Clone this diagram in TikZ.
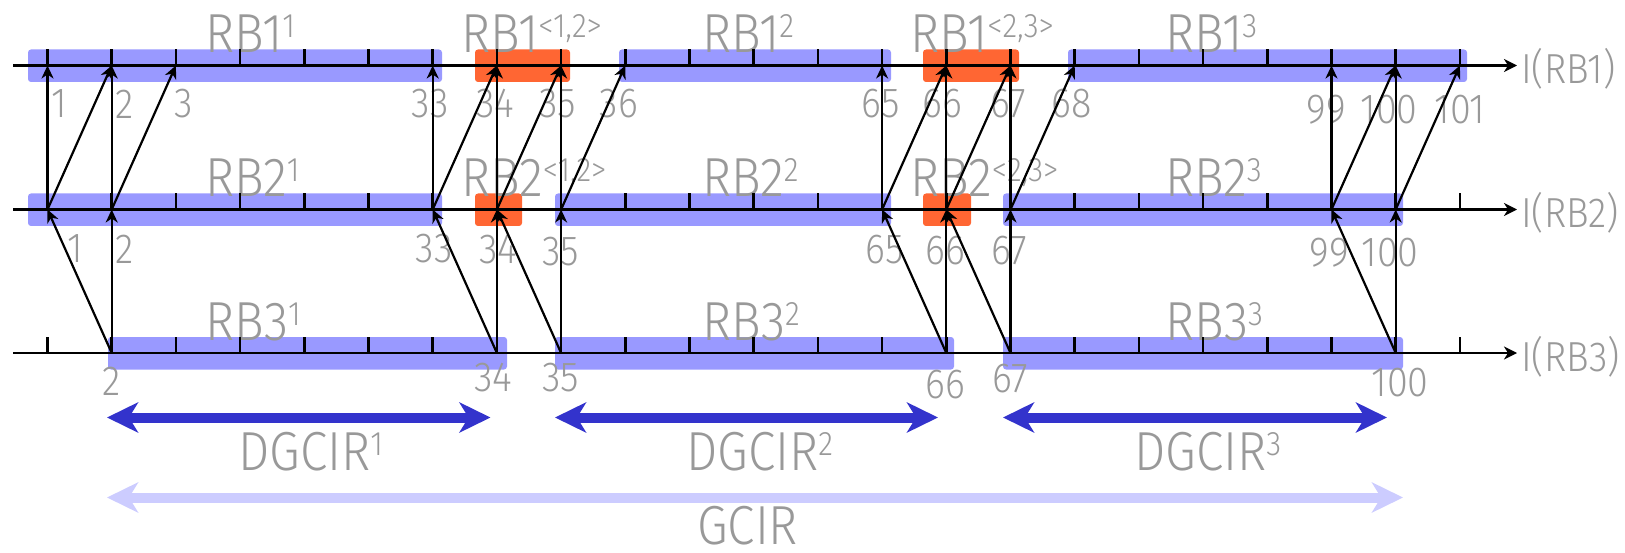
\documentclass[tikz,border=0pt]{standalone}
\usepackage{fontspec}
\setmainfont{Fira Sans Light}[FakeStretch=0.9]
\usetikzlibrary{arrows.meta}
\definecolor{rbblue}{RGB}{153,153,255}
\definecolor{rborange}{RGB}{255,102,51}
\definecolor{dgblue}{RGB}{51,51,204}
\definecolor{gcblue}{RGB}{204,204,255}
\definecolor{txtgray}{RGB}{153,153,153}
% raised index after a block name
\newcommand\upidx[1]{\raisebox{15pt}{\fontsize{34}{34}\selectfont #1}}

\begin{document}
\begin{tikzpicture}[x=1pt,y=-1pt,
  band/.style={fill=rbblue,rounded corners=3pt},
  overlap/.style={fill=rborange,rounded corners=3pt},
  axisline/.style={line width=2.5pt,-{Stealth[length=13pt,width=13pt,inset=4pt]}},
  tickmark/.style={line width=2.5pt},
  link/.style={line width=2.2pt,-{Stealth[length=13pt,width=12pt,inset=4pt]}},
  blockname/.style={text=txtgray,font=\fontsize{55}{55}\selectfont,anchor=base west,inner sep=0pt},
  idx/.style={text=txtgray,font=\fontsize{42}{42}\selectfont,inner sep=0pt},
  axisname/.style={text=txtgray,font=\fontsize{42}{42}\selectfont,anchor=base west,inner sep=0pt},
  span/.style={line width=10pt,{Stealth[length=31pt,width=30pt,inset=9pt]}-{Stealth[length=31pt,width=30pt,inset=9pt]}},
]
\useasboundingbox (0,0) rectangle (1625,553);

% ---- coloured blocks on the three index axes
\foreach \a/\b in {28/442,619/891,1068/1467}
  \fill[band] (\a,49.5) rectangle (\b,82);
\foreach \a/\b in {475/570,923/1019}
  \fill[overlap] (\a,49.5) rectangle (\b,82);
\foreach \a/\b in {28/442,555/891,1003/1403}
  \fill[band] (\a,193.5) rectangle (\b,226);
\foreach \a/\b in {475/522,923/971}
  \fill[overlap] (\a,193.5) rectangle (\b,226);
\foreach \a/\b in {108/507,555/954,1003/1403}
  \fill[band] (\a,337) rectangle (\b,369.5);

% ---- block names
\node[blockname] (n11) at (205,53) {RB1\upidx{1}};
\node[blockname] (n1a) at (461,53) {RB1\upidx{<1,2>}};
\node[blockname] (n12) at (702,53) {RB1\upidx{2}};
\node[blockname] (n1b) at (910,53) {RB1\upidx{<2,3>}};
\node[blockname] (n13) at (1165,53) {RB1\upidx{3}};
\node[blockname] (n21) at (205,197) {RB2\upidx{1}};
\node[blockname] (n2a) at (461,197) {RB2\upidx{<1,2>}};
\node[blockname] (n22) at (702,197) {RB2\upidx{2}};
\node[blockname] (n2b) at (910,197) {RB2\upidx{<2,3>}};
\node[blockname] (n23) at (1165,197) {RB2\upidx{3}};
\node[blockname] (n31) at (205,341) {RB3\upidx{1}};
\node[blockname] (n32) at (702,341) {RB3\upidx{2}};
\node[blockname] (n33) at (1165,341) {RB3\upidx{3}};

% ---- index numbers
\foreach \t/\x/\y in {1/59/104,2/125/104,3/184/104,33/430/104,34/495/104,35/558/104,
    36/619/104,65/881/104,66/942/104,67/1008/104,68/1072/104,99/1326/110,100/1389/110,101/1460/110}
  \node[idx] (i1-\t) at (\x,\y) {\t};
\foreach \t/\x/\y in {1/75/249,2/125/249,33/434/249,34/498/250,35/561/252,65/885/250,
    66/945/251,67/1009/251,99/1329/253,100/1390/253}
  \node[idx] (i2-\t) at (\x,\y) {\t};
\foreach \t/\x/\y in {2/112/381,34/493/378,35/561/378,66/945/385,67/1010/379,100/1400/383}
  \node[idx] (i3-\t) at (\x,\y) {\t};

% ---- axes with tick marks
\foreach \r/\y in {1/65.5,2/209.5,3/353}{
  \coordinate (r\r-s) at (13,\y);
  \coordinate (r\r-e) at (1517,\y);
  \draw[axisline] (r\r-s) -- (r\r-e);
  \foreach \k in {0,...,22}{
    \coordinate (r\r-\k) at ({47.5+64.2*\k},\y);
    \draw[tickmark] (r\r-\k) -- ++(0,-16.5);
  }
}
\node[axisname] (l1) at (1521,83.5) {I(RB1)};
\node[axisname] (l2) at (1521,227.5) {I(RB2)};
\node[axisname] (l3) at (1521,371) {I(RB3)};

% ---- mappings RB2 -> RB1
\foreach \p/\q in {0/0,0/1,1/1,1/2,6/6,6/7,7/7,7/8,8/8,8/9,13/13,13/14,14/14,14/15,
    15/15,15/16,20/20,20/21,21/21,21/22}
  \draw[link] (r2-\p) -- (r1-\q);
% ---- mappings RB3 -> RB2
\foreach \p/\q in {1/0,1/1,7/6,7/7,8/7,8/8,14/13,14/14,15/14,15/15,21/20,21/21}
  \draw[link] (r3-\p) -- (r2-\q);

% ---- ranges
\coordinate (d1a) at (107,417.5);  \coordinate (d1b) at (490.5,417.5);
\coordinate (d2a) at (555,417.5);  \coordinate (d2b) at (938,417.5);
\coordinate (d3a) at (1003,417.5); \coordinate (d3b) at (1387,417.5);
\coordinate (ga) at (107,497.5);   \coordinate (gb) at (1403,497.5);
\draw[span,dgblue] (d1a) -- (d1b);
\draw[span,dgblue] (d2a) -- (d2b);
\draw[span,dgblue] (d3a) -- (d3b);
\draw[span,gcblue] (ga) -- (gb);
\node[blockname] (t1) at (238,470) {DGCIR\upidx{1}};
\node[blockname] (t2) at (686,470) {DGCIR\upidx{2}};
\node[blockname] (t3) at (1134,470) {DGCIR\upidx{3}};
\node[blockname] (tg) at (697,544) {GCIR};
\end{tikzpicture}
\end{document}
